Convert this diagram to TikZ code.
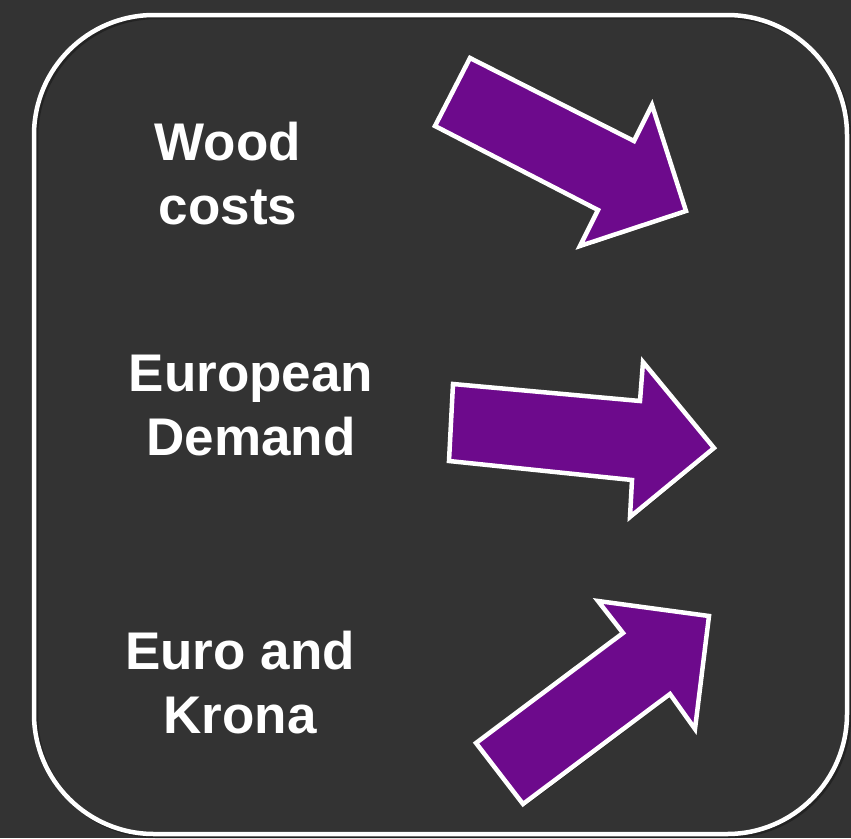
\documentclass[tikz,border=0pt]{standalone}
\usepackage{fontspec}
\setmainfont{Liberation Sans}
\usetikzlibrary{shadows}
\definecolor{bgcol}{HTML}{333333}
\definecolor{arrowcol}{HTML}{6D0A8C}
\begin{document}
\begin{tikzpicture}[x=1pt,y=-1pt,
  frame/.style={draw=white,line width=4.5pt,rounded corners=120pt},
  bigarrow/.style={draw=white,fill=arrowcol,line width=4.5pt,line join=miter,
    drop shadow={shadow xshift=2pt,shadow yshift=-2pt,opacity=0.4,fill=black}},
  label/.style={text=white,font=\fontsize{53}{64}\selectfont\bfseries,align=center,inner sep=0pt}]
\fill[bgcol] (0,0) rectangle (851,838);
\useasboundingbox (0,0) rectangle (851,838);
\draw[black,opacity=0.3,line width=4.5pt,rounded corners=120pt] (36,17) rectangle (849,836);
\draw[frame] (34,15) rectangle (847,834);
% arrow 1 (down-right)
\draw[bigarrow] (470,58) -- (634,141) -- (652,105) -- (686,211) -- (580,246) -- (598,210) -- (435,126) -- cycle;
% arrow 2 (right)
\draw[bigarrow] (453,384) -- (640,401) -- (643,362) -- (714,448) -- (630,517) -- (632,480) -- (449,461) -- cycle;
% arrow 3 (up-right)
\draw[bigarrow] (476,743) -- (623,633) -- (598,601) -- (709,616) -- (695,729) -- (670,694) -- (523,804) -- cycle;
\node[label] (wood) at (228,174) {Wood\\costs};
\node[label] (europe) at (251,406) {European\\Demand};
\node[label] (euro) at (240,683) {Euro and\\Krona};
\end{tikzpicture}
\end{document}
